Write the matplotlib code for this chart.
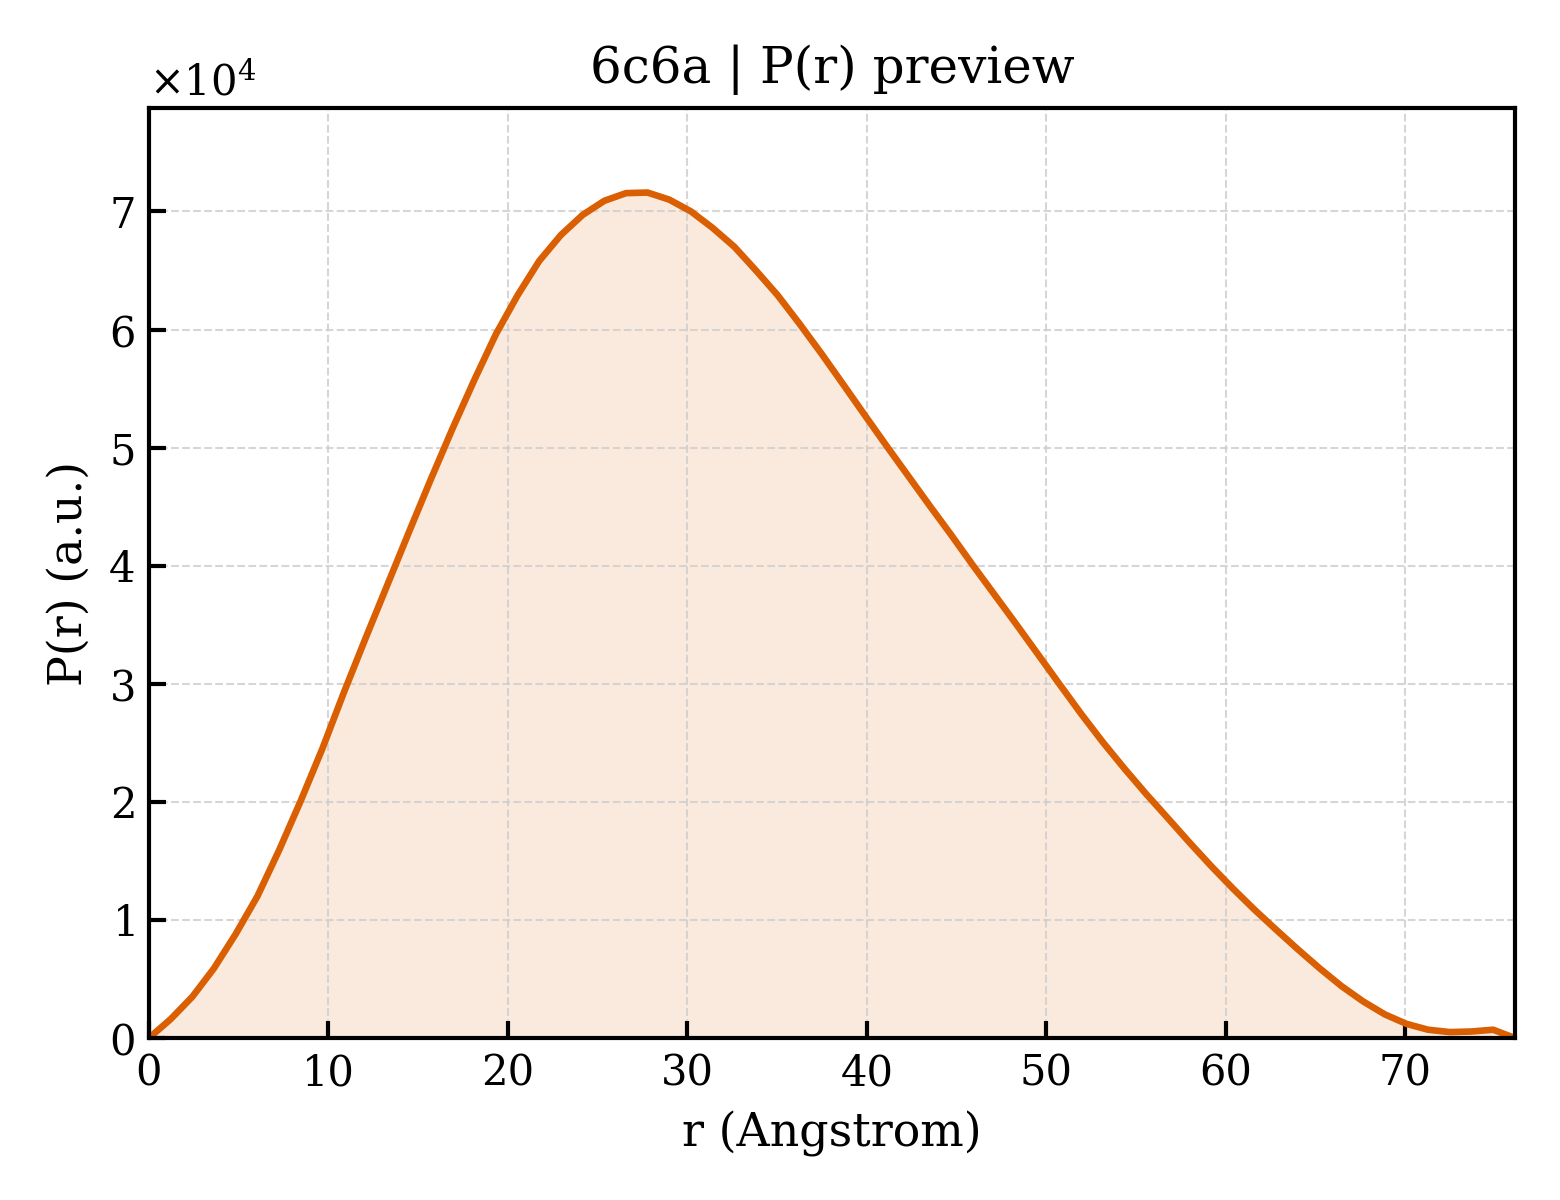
import numpy as np
import matplotlib
matplotlib.use("Agg")
import matplotlib.pyplot as plt

plt.rcParams['font.family'] = 'DejaVu Serif'
plt.rcParams['mathtext.fontset'] = 'dejavuserif'

# distance grid (Angstrom) and P(r) read from the preview
r = [0.00, 1.21, 2.42, 3.62, 4.83, 6.04, 7.25, 8.46, 9.66, 10.87,
     12.08, 13.29, 14.50, 15.70, 16.91, 18.12, 19.33, 20.54, 21.74, 22.95,
     24.16, 25.37, 26.58, 27.78, 28.99, 30.20, 31.41, 32.62, 33.82, 35.03,
     36.24, 37.45, 38.66, 39.86, 41.07, 42.28, 43.49, 44.70, 45.90, 47.11,
     48.32, 49.53, 50.74, 51.94, 53.15, 54.36, 55.57, 56.78, 57.98, 59.19,
     60.40, 61.61, 62.82, 64.02, 65.23, 66.44, 67.65, 68.86, 70.06, 71.27,
     72.48, 73.69, 74.90, 76.10]
pr = [0.00, 0.16, 0.35, 0.59, 0.88, 1.20, 1.59, 2.01, 2.45, 2.93,
      3.39, 3.84, 4.29, 4.73, 5.16, 5.57, 5.96, 6.29, 6.58, 6.80,
      6.97, 7.09, 7.155, 7.16, 7.10, 7.00, 6.86, 6.70, 6.50, 6.29,
      6.05, 5.80, 5.54, 5.28, 5.02, 4.765, 4.51, 4.26, 4.005, 3.755,
      3.505, 3.25, 2.995, 2.745, 2.505, 2.28, 2.065, 1.86, 1.655, 1.455,
      1.265, 1.085, 0.915, 0.75, 0.59, 0.44, 0.31, 0.20, 0.12, 0.07,
      0.05, 0.055, 0.07, 0.00]
pr = np.array(pr) * 1e4

color = '#d95f02'

fig, ax = plt.subplots(figsize=(5.2, 4), dpi=300)
fig.subplots_adjust(left=0.0955, right=0.971, top=0.91, bottom=0.135)

ax.fill_between(r, 0, pr, color=color, alpha=0.13, linewidth=0)
ax.plot(r, pr, color=color, lw=1.6)

ax.set_xlim(0, r[-1])
ax.set_ylim(0, pr.max() * 1.1)
ax.set_xlabel('r (Angstrom)', fontsize=11)
ax.set_ylabel('P(r) (a.u.)', fontsize=11)
ax.set_title('6c6a | P(r) preview', fontsize=12)

ax.ticklabel_format(axis='y', style='sci', scilimits=(0, 0), useMathText=True)
ax.tick_params(direction='in', length=4, width=1, labelsize=10)
ax.yaxis.get_offset_text().set_fontsize(10)
for s in ax.spines.values():
    s.set_linewidth(1.0)
ax.grid(True, ls='--', lw=0.5, color='#cccccc', alpha=0.8)

fig.savefig('out.png', dpi=300)
